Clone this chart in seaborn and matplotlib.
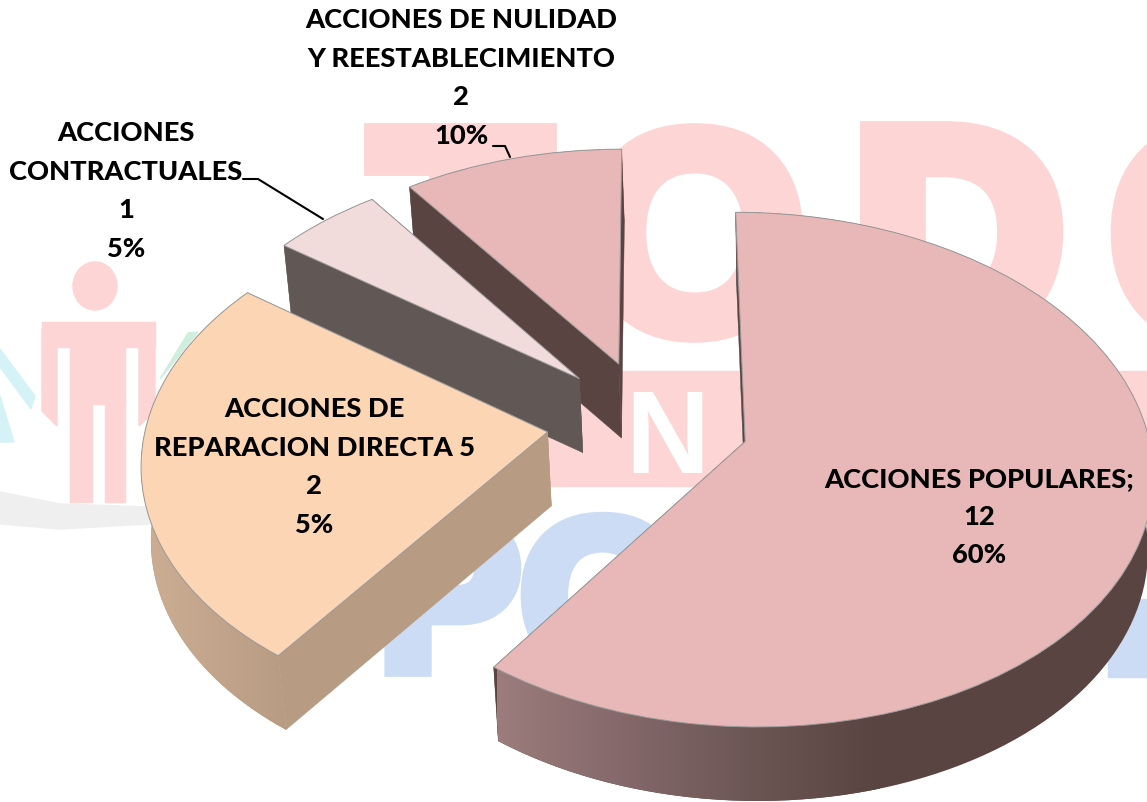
import numpy as np
import matplotlib
matplotlib.use("Agg")
import matplotlib.pyplot as plt
import matplotlib.transforms as mtransforms
import matplotlib.patheffects as pe
from matplotlib.patches import Rectangle, Ellipse, Polygon
import seaborn as sns

# ---- data ----
categories = ["ACCIONES POPULARES;", "ACCIONES DE\nREPARACION DIRECTA 5",
              "ACCIONES\nCONTRACTUALES", "ACCIONES DE NULIDAD\nY REESTABLECIMIENTO"]
slice_values = [12, 5, 1, 2]
shown_counts = [12, 2, 1, 2]
shown_percents = [60, 5, 5, 10]

# ---- styles ----
top_colors = ["#E7B8B7", "#FCD5B5", "#F2DCDB", "#E7B8B7"]
face_colors = ["#5A4442", "#B79B83", "#615855", "#5A4442"]
rim_ramps = [["#9C7C7C", "#84686A", "#6C5654", "#5A4442"],
             ["#CDAF94", "#B79B83"],
             ["#615855", "#615855"],
             ["#5A4442", "#5A4442"]]
rim_spans = [(497, 880), (135, 290), (0, 1147), (0, 1147)]
explode = [0.25, 0.255, 0.25, 0.25]
label_pos = [(979, 517), (314, 467), (126, 191), (461, 78)]
W, H = 1147, 803
CX, CY, A, B, K = 649, 423, 401, 250, 0.1085
DEPTH, SHRINK, VX = 74, 0.015, 800
PINK, BLUE, GREY = "#FCD5D4", "#CBDCF4", "#EFEFEF"

sns.set_theme(style="white")
plt.rcParams["font.family"] = ["Lato", "DejaVu Sans"]


def project(x, y):
    x, y = np.asarray(x, float), np.asarray(y, float)
    w = 1 + K * y
    return CX + A * x / w, CY - B * y / w


def lower(px, py):
    return px + (VX - px) * SHRINK, py + DEPTH


class Perspective(mtransforms.Transform):
    input_dims = output_dims = 2
    is_separable = False
    has_inverse = False

    def transform_non_affine(self, values):
        px, py = project(values[:, 0], values[:, 1])
        return np.column_stack([px, py])


fig = plt.figure(figsize=(W / 100, H / 100), dpi=100, facecolor="white")
ax = fig.add_axes([0, 0, 1, 1])
wedges, _ = ax.pie(slice_values, explode=explode, startangle=90,
                   counterclock=False, radius=1, colors=top_colors,
                   wedgeprops=dict(edgecolor="#9A9A9A", linewidth=0.7))
ax.set_aspect("auto")
ax.set_xlim(0, W)
ax.set_ylim(H, 0)
ax.axis("off")


# ---- watermark behind the chart ----
def mark(s, x, y, size, color=PINK, family="Liberation Sans", grow=0):
    t = ax.text(x, y, s, fontsize=size, color=color, fontweight="bold", family=family,
                ha="center", va="center_baseline", zorder=0.3, clip_on=True)
    if grow:
        t.set_path_effects([pe.withStroke(linewidth=grow, foreground=color, joinstyle="miter")])


ax.add_patch(Rectangle((540, 372), 607, 115, color=PINK, zorder=0.1))
mark("T", 460, 229, 211, grow=15)
mark("O", 695, 229, 205, grow=13)
mark("D", 958, 229, 211, grow=17)
mark("O", 1223, 229, 211, grow=15)
mark("N", 667, 431, 84, color="white")
mark("PO", 532, 592, 153, color=BLUE, grow=12)
ax.add_patch(Rectangle((1108, 600), 40, 78, color=BLUE, zorder=0.1))
ax.add_patch(Ellipse((95, 287), 44, 48, color=PINK, zorder=0.2))
ax.add_patch(Rectangle((42, 323), 113, 25, color=PINK, zorder=0.2))
ax.add_patch(Polygon([(42, 330), (57, 330), (57, 427), (42, 412)], color=PINK, zorder=0.2))
ax.add_patch(Polygon([(139, 330), (155, 330), (155, 412), (139, 427)], color=PINK, zorder=0.2))
ax.add_patch(Rectangle((70, 330), 55, 75, color=PINK, zorder=0.2))
ax.add_patch(Rectangle((70, 400), 22, 103, color=PINK, zorder=0.2))
ax.add_patch(Rectangle((105, 400), 20, 103, color=PINK, zorder=0.2))
ax.add_patch(Polygon([(0, 493), (60, 505), (150, 508), (150, 525), (60, 530), (0, 525)],
                     color=GREY, zorder=0.15))
for pts in ([(0, 350), (35, 397), (31, 410), (0, 368)], [(0, 397), (14, 443), (0, 443)]):
    ax.add_patch(Polygon(pts, color="#D5F3F7", zorder=0.15))
ax.add_patch(Polygon([(188, 334), (198, 333), (160, 380)], color="#D0EEDD", zorder=0.15))

# ---- exploded 3-D slices, drawn from the pie's own wedges ----
perspective = Perspective() + ax.transData
for rank, i in enumerate([3, 2, 1, 0]):
    wedge = wedges[i]
    z = 2 + rank * 2
    cx0, cy0 = wedge.center
    th = np.radians(np.linspace(wedge.theta1, wedge.theta2, 120))
    rx, ry = project(cx0 + wedge.r * np.cos(th), cy0 + wedge.r * np.sin(th))
    apx, apy = project(cx0, cy0)
    bx, by = lower(rx, ry)
    abx, aby = lower(apx, apy)
    # cut faces
    for j in (0, -1):
        ax.fill([apx, rx[j], bx[j], abx], [apy, ry[j], by[j], aby],
                color=face_colors[i], lw=0.3, zorder=z)
    # rim: smooth horizontal gradient clipped to the rim outline
    lo, hi = rim_spans[i]
    ramp = np.array(sns.blend_palette(rim_ramps[i], 256))[None, :, :3]
    im = ax.imshow(ramp, extent=(lo, hi, H, 0), aspect="auto", zorder=z, interpolation="bilinear")
    pad_x = np.r_[rx, bx[::-1]]
    pad_y = np.r_[ry, by[::-1]]
    im.set_clip_path(Polygon(np.column_stack([pad_x, pad_y]), transform=ax.transData))
    if hi < W:  # beyond the ramp the darkest tone continues
        ax.fill(pad_x, pad_y, color=rim_ramps[i][-1], lw=0, zorder=z - 0.5)
    wedge.set_transform(perspective)
    wedge.set_zorder(z + 1)
ax.set_xlim(0, W)
ax.set_ylim(H, 0)

# ---- leader lines ----
ax.plot([243, 258, 323], [180, 180, 220], color="black", lw=1.5, zorder=20)
ax.plot([493, 505, 510], [147, 147, 158], color="black", lw=1.5, zorder=20)

# ---- labels ----
for name, n, p, (x, y) in zip(categories, shown_counts, shown_percents, label_pos):
    ax.text(x, y, f"{name}\n{n}\n{p}%", ha="center", va="center", fontsize=19.6,
            fontweight=900, color="black", linespacing=1.72, zorder=30)

fig.savefig("out.png", dpi=100, facecolor="white")
